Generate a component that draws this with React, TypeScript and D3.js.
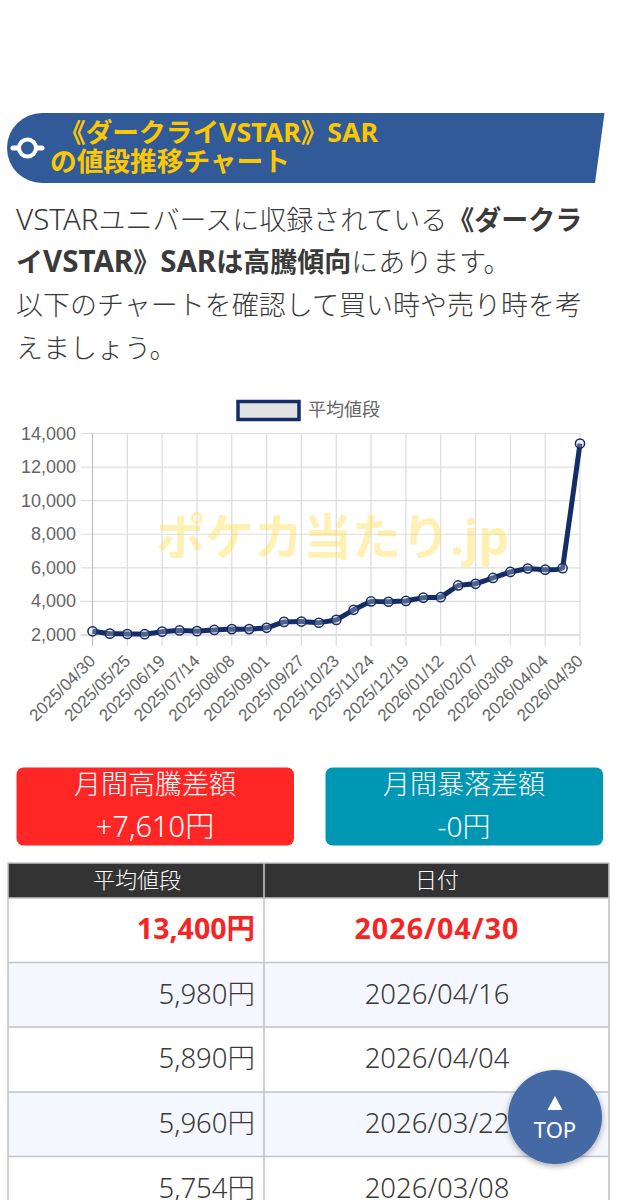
import React from "react";
import * as d3 from "d3";

const prices = [2220, 2080, 2060, 2050, 2200, 2270, 2230, 2300, 2350, 2350, 2430, 2780, 2800, 2730, 2900, 3500, 4000, 3980, 4030, 4220, 4250, 4950, 5050, 5400, 5754, 5960, 5890, 5980, 13400];
const xLabels = ["2025/04/30", "2025/05/25", "2025/06/19", "2025/07/14", "2025/08/08", "2025/09/01", "2025/09/27", "2025/10/23", "2025/11/24", "2025/12/19", "2026/01/12", "2026/02/07", "2026/03/08", "2026/04/04", "2026/04/30"];
const yTicks = [2000, 4000, 6000, 8000, 10000, 12000, 14000];
const tableValues = ["13,400円", "5,980円", "5,890円", "5,960円", "5,754円"];
const tableDates = ["2026/04/30", "2026/04/16", "2026/04/04", "2026/03/22", "2026/03/08"];
const rowTops = [898, 962.5, 1027, 1092, 1156.5];

const JP = "'Noto Sans CJK JP',sans-serif";
const MIX = "'Noto Sans','Noto Sans CJK JP',sans-serif";
const ARIAL = "'Liberation Sans',Arial,sans-serif";
const NAVY = "#142c68";

const x = d3.scaleLinear().domain([0, prices.length - 1]).range([92.5, 580]);
const y = d3.scaleLinear().domain([2000, 14000]).range([635, 433.5]);
const line = d3.line<number>().x((_, i) => x(i)).y((d) => y(d)).curve(d3.curveCardinal.tension(0.9));

export default function App() {
  return (
    <svg width={617} height={1200} viewBox="0 0 617 1200" style={{ position: "absolute", left: 0, top: 0, background: "#fff" }}>
      <defs>
        <filter id="sh" x="-30%" y="-30%" width="160%" height="160%">
          <feDropShadow dx="0" dy="2" stdDeviation="3" floodColor="#000" floodOpacity="0.35" />
        </filter>
      </defs>

      {/* heading */}
      <path d="M42 113 H604.5 L595 183 H42 A35 35 0 0 1 42 113 Z" fill="#315a98" />
      <line x1={13} x2={42} y1={148} y2={148} stroke="#fff" strokeWidth={5} strokeLinecap="round" />
      <circle cx={27.5} cy={148} r={8.5} fill="#315a98" stroke="#fff" strokeWidth={4} />
      <g fontFamily={MIX} fontWeight={700} fontSize={26.7} fill="#fdc800">
        <text x={59} y={142}>《ダークライVSTAR》SAR</text>
        <text x={50} y={171}>の値段推移チャート</text>
      </g>

      {/* intro */}
      <g fontFamily={MIX} fontSize={27} fill="#3a3a3a" fontWeight={300}>
        <text x={16} y={230}><tspan fontSize={29.5}>VSTAR</tspan>ユニバースに収録されている<tspan fontWeight={700}>《ダークラ</tspan></text>
        <text x={16} y={272} fontWeight={700}>イ<tspan fontSize={29.5}>VSTAR</tspan>》<tspan fontSize={29.5}>SAR</tspan>は高騰傾向<tspan fontWeight={300}>にあります。</tspan></text>
        <text x={16} y={315}>以下のチャートを確認して買い時や売り時を考</text>
        <text x={16} y={358}>えましょう。</text>
      </g>

      {/* legend */}
      <rect x={238} y={401.5} width={61} height={18} fill="#e2e2e2" stroke={NAVY} strokeWidth={3.5} />
      <text x={308} y={415.5} fontFamily={JP} fontSize={18} fill="#666">平均値段</text>

      {/* grid */}
      {yTicks.map((t) => (
        <line key={t} x1={81} x2={580} y1={y(t)} y2={y(t)} stroke={t === 2000 ? "#bdbdc4" : "#dedede"} strokeWidth={1.2} />
      ))}
      {xLabels.map((_, i) => (
        <line key={i} x1={x(i * 2)} x2={x(i * 2)} y1={433.5} y2={646} stroke={i === 0 ? "#bdbdc4" : "#dcdce0"} strokeWidth={1.2} />
      ))}

      {/* watermark */}
      <text x={156} y={555} fontFamily={MIX} fontWeight={700} fontSize={49} fill="#ffd83a" fillOpacity={0.38}>ポケカ当たり.jp</text>

      {/* axes */}
      <g fontFamily={ARIAL} fontSize={18} fill="#666">
        {yTicks.map((t) => (
          <text key={t} x={76} y={y(t) + 6} textAnchor="end">{d3.format(",")(t)}</text>
        ))}
        {xLabels.map((l, i) => (
          <text key={l} textAnchor="end" fontSize={17} transform={`translate(${x(i * 2) + 4},${662}) rotate(-45)`}>{l}</text>
        ))}
      </g>

      {/* series */}
      <path d={line(prices) ?? ""} fill="none" stroke={NAVY} strokeWidth={5} />
      {prices.map((p, i) => (
        <circle key={i} cx={x(i)} cy={y(p)} r={4.6} fill="#e2e2e2" fillOpacity={0.3} stroke={NAVY} strokeWidth={1.5} />
      ))}

      {/* summary buttons */}
      <rect x={16.5} y={767.5} width={277.5} height={78} rx={7} fill="#ff2626" />
      <rect x={325.5} y={767.5} width={277.5} height={78} rx={7} fill="#0097b5" />
      <g fontFamily={MIX} fontSize={27} fill="#fff" textAnchor="middle" fontWeight={300}>
        <text x={155} y={794}>月間高騰差額</text>
        <text x={155} y={837} fontSize={29}>+7,610円</text>
        <text x={464} y={794}>月間暴落差額</text>
        <text x={464} y={837} fontSize={28}>-0円</text>
      </g>

      {/* table */}
      <rect x={8} y={863} width={601} height={35} fill="#333" />
      <g fontFamily={MIX} fontSize={22} fill="#fff" textAnchor="middle" fontWeight={300}>
        <text x={137} y={888}>平均値段</text>
        <text x={437} y={888}>日付</text>
      </g>
      {tableValues.map((v, i) => {
        const top = rowTops[i];
        const hi = i === 0;
        const color = hi ? "#f52525" : "#3a3a3a";
        return (
          <g key={v} fontFamily={MIX} fontSize={hi ? 28.5 : 27.5} fill={color} fontWeight={hi ? 700 : 300}>
            <rect x={8} y={top} width={601} height={64.5} fill={i % 2 === 1 ? "#f5f7fe" : "#fff"} />
            <text x={255} y={top + 41} textAnchor="end">{v}</text>
            <text x={437} y={top + 41} textAnchor="middle" letterSpacing={hi ? 1.1 : 0}>{tableDates[i]}</text>
          </g>
        );
      })}
      <g stroke="#c2c2ca" strokeWidth={1.6}>
        {rowTops.slice(1).map((t) => <line key={t} x1={8} x2={609} y1={t} y2={t} />)}
        <line x1={8} x2={8} y1={862.5} y2={1200} />
        <line x1={264} x2={264} y1={862.5} y2={1200} />
        <line x1={609} x2={609} y1={862.5} y2={1200} />
        <line x1={8} x2={609} y1={863} y2={863} />
        <line x1={8} x2={609} y1={898} y2={898} />
      </g>

      {/* TOP button */}
      <circle cx={555} cy={1117} r={47} fill="#4569a5" filter="url(#sh)" />
      <path d="M555 1096 L562.5 1110 H547.5 Z" fill="#fff" />
      <text x={555} y={1138} textAnchor="middle" fontFamily={MIX} fontSize={22} fill="#fff">TOP</text>
    </svg>
  );
}
